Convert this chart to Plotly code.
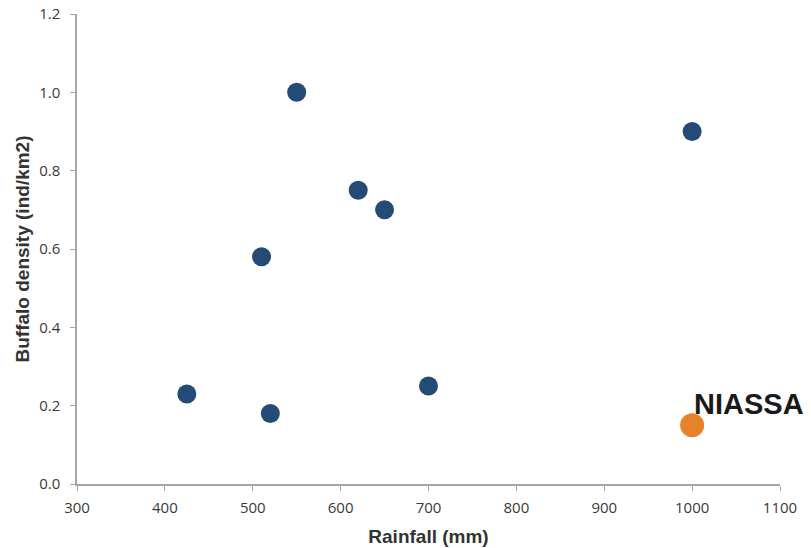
import plotly.graph_objects as go

rainfall = [425, 510, 520, 550, 620, 650, 700, 1000]
density = [0.23, 0.58, 0.18, 1.0, 0.75, 0.70, 0.25, 0.90]
niassa_rainfall = [1000]
niassa_density = [0.15]
x_ticks = [300, 400, 500, 600, 700, 800, 900, 1000, 1100]
y_ticks = [0.0, 0.2, 0.4, 0.6, 0.8, 1.0, 1.2]

fig = go.Figure()
fig.add_trace(go.Scatter(x=rainfall, y=density, mode="markers",
                         marker=dict(size=19, color="#234b75"), showlegend=False, cliponaxis=False))
fig.add_trace(go.Scatter(x=niassa_rainfall, y=niassa_density, mode="markers",
                         marker=dict(size=24, color="#e5822a"), showlegend=False, cliponaxis=False))
fig.add_annotation(x=1000, y=0.205, text="<b>NIASSA</b>", showarrow=False,
                   xanchor="left", yanchor="middle",
                   font=dict(family="Liberation Sans, Arial", size=29, color="#1a1a1a"))

axis_common = dict(showline=True, linecolor="#a6a6a6", linewidth=1.5, showgrid=False,
                   zeroline=False, ticks="outside", ticklen=5, tickcolor="#a6a6a6",
                   automargin=False, ticklabeloverflow="allow",
                   tickfont=dict(family="Open Sans, Liberation Sans", size=15, color="#3a3a3a"))
fig.update_xaxes(range=[300, 1100], tickvals=x_ticks, ticktext=[str(v) for v in x_ticks],
                 ticklabelstandoff=4,
                 title=dict(text="<b>Rainfall (mm)</b>", font=dict(family="Liberation Sans, Arial", size=19, color="#333333"), standoff=14),
                 **axis_common)
fig.update_yaxes(range=[0, 1.2], tickvals=y_ticks, ticktext=[f"{v:.1f}" for v in y_ticks],
                 ticklabelstandoff=7,
                 title=dict(text="<b>Buffalo density (ind/km2)</b>", font=dict(family="Liberation Sans, Arial", size=19, color="#333333"), standoff=5),
                 **axis_common)
fig.update_layout(width=811, height=548, margin=dict(l=77, r=31, t=14, b=64),
                  plot_bgcolor="white", paper_bgcolor="white")
fig.write_html("out.html", config={"displayModeBar": False},
               post_script="document.body.style.margin='0';")
